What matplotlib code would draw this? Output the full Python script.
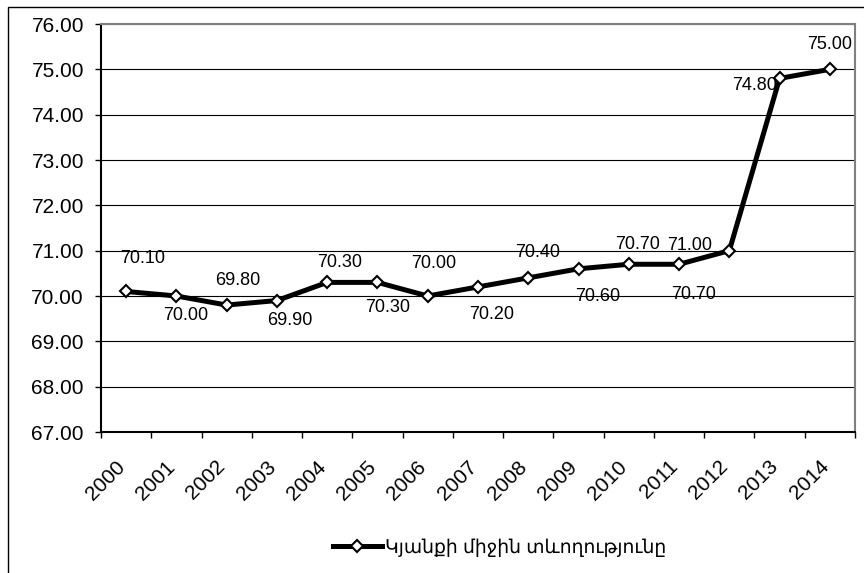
import matplotlib.pyplot as plt
import matplotlib.transforms as mtransforms
from matplotlib.patches import Rectangle
from matplotlib.lines import Line2D

plt.rcParams['font.family'] = ['Liberation Sans', 'DejaVu Sans']

years = ['2000', '2001', '2002', '2003', '2004', '2005', '2006', '2007',
         '2008', '2009', '2010', '2011', '2012', '2013', '2014']
life = [70.10, 70.00, 69.80, 69.90, 70.30, 70.30, 70.00, 70.20,
        70.40, 70.60, 70.70, 70.70, 71.00, 74.80, 75.00]
series_name = 'Կյանքի միջին տևողությունը'

# label offsets (pixels, dx, dy up)
lab_off = [(16, 33), (9, -20), (11, 25), (13, -20), (12, 20), (10, -25),
           (6, 32), (14, -28), (9, 25), (19, -28), (9, 20), (14, -30),
           (-40, 5), (-25, -7), (0, 25)]

fig = plt.figure(figsize=(8.64, 5.73), dpi=100)
ax = fig.add_axes([101/864, 1-432/573, 754/864, 408/573])

# outer chart border (cropped on the right and bottom)
fig.patches.append(Rectangle((8/864, -0.2), 1.2, 1.2 - 7/573,
                             transform=fig.transFigure, fill=False,
                             edgecolor='black', linewidth=1.0))

x = [i + 0.5 for i in range(len(years))]
ax.plot(x, life, color='black', linewidth=3.6, marker='D', markersize=6.6,
        markerfacecolor='white', markeredgecolor='black', markeredgewidth=1.5,
        zorder=3)

for xi, v, (dx, dy) in zip(x, life, lab_off):
    ax.annotate('%.2f' % v, (xi, v), xytext=(dx * 0.72, dy * 0.72),
                textcoords='offset points', ha='center', va='center',
                fontsize=13, color='black', zorder=4)

ax.set_xlim(0, len(years))
ax.set_ylim(67, 76)
ax.set_yticks(range(67, 77))
ax.set_yticklabels(['%.2f' % v for v in range(67, 77)], fontsize=15)
ax.yaxis.grid(True, color='black', linewidth=0.8)
ax.set_axisbelow(True)

ax.set_xticks(range(len(years) + 1))
ax.set_xticklabels([])
ax.set_xticks(x, minor=True)
ax.set_xticklabels(years, minor=True, rotation=45, ha='right', va='top',
                   rotation_mode='anchor', fontsize=15)
ax.tick_params(axis='x', which='minor', length=0, pad=18)
ax.tick_params(axis='x', which='major', length=4.3, direction='out', width=1)
ax.tick_params(axis='y', length=4.3, direction='out', width=1, pad=8)
off = mtransforms.ScaledTranslation(-11/100, 0, fig.dpi_scale_trans)
for lab in ax.get_xticklabels(minor=True):
    lab.set_transform(lab.get_transform() + off)

ax.spines['top'].set_color('#808080')
ax.spines['right'].set_color('#808080')
for side in ['top', 'right', 'left', 'bottom']:
    ax.spines[side].set_linewidth(1.5)

handle = Line2D([], [], color='black', linewidth=3.6, marker='D', markersize=6.6,
                markerfacecolor='white', markeredgecolor='black',
                markeredgewidth=1.5)
fig.legend([handle], [series_name], loc='center', bbox_to_anchor=(0.578, 0.044),
           frameon=False, fontsize=13.5, handlelength=2.6, handletextpad=0.15)

plt.savefig('out.png')
